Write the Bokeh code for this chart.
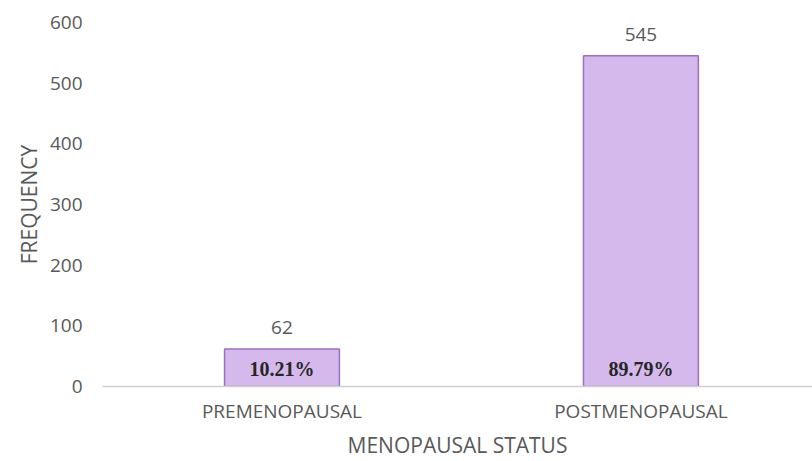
from bokeh.plotting import figure
from bokeh.models import ColumnDataSource, Range1d, FixedTicker, LabelSet
from bokeh.core.properties import value
from bokeh.embed import file_html
from bokeh.resources import INLINE

# Menopausal status counts
categories = ["PREMENOPAUSAL", "POSTMENOPAUSAL"]
frequency = [62, 545]
percent_labels = ["10.21%", "89.79%"]

positions = [0.5, 1.5]
source = ColumnDataSource(dict(
    x=positions,
    top=frequency,
    count_text=[str(v) for v in frequency],
    pct=percent_labels,
    pct_y=[0] * len(frequency),
))

GREY = "#595959"
FONT = "Open Sans"

p = figure(
    width=812, height=461,
    x_range=Range1d(0, 1.978), y_range=Range1d(0, 600),
    output_backend="svg", toolbar_location=None,
    min_border_left=102, min_border_right=0,
    min_border_top=22, min_border_bottom=75,
)
p.outline_line_color = None
p.background_fill_color = "white"
p.border_fill_color = "white"
p.xgrid.visible = False
p.ygrid.visible = False

p.vbar(x="x", top="top", width=0.32, source=source,
       fill_color="#D5B9EC", line_color="#9A6FC0", line_width=1.5)

# counts above bars
p.add_layout(LabelSet(x="x", y="top", text="count_text", source=source,
                      y_offset=21, text_align="center", text_baseline="middle",
                      text_font=value(FONT), text_font_size=value("19px"),
                      text_color=GREY))
# shares inside bars
p.add_layout(LabelSet(x="x", y="pct_y", text="pct", source=source,
                      y_offset=18, text_align="center", text_baseline="middle",
                      text_font=value("Liberation Serif"),
                      text_font_style="bold",
                      text_font_size=value("20px"), text_color="#262626"))

# x axis
p.xaxis.ticker = FixedTicker(ticks=positions)
p.xaxis.major_label_overrides = {pos: c for pos, c in zip(positions, categories)}
p.xaxis.axis_line_color = "#D0D0D0"
p.xaxis.axis_line_width = 1.5
p.xaxis.major_tick_line_color = None
p.xaxis.minor_tick_line_color = None
p.xaxis.major_tick_out = 0
p.xaxis.minor_tick_out = 0
p.xaxis.major_label_standoff = 11
p.xaxis.major_label_text_font = FONT
p.xaxis.major_label_text_font_size = "19px"
p.xaxis.major_label_text_color = GREY
p.xaxis.axis_label = "MENOPAUSAL STATUS"
p.xaxis.axis_label_standoff = 4
p.xaxis.axis_label_text_font = FONT
p.xaxis.axis_label_text_font_size = "21px"
p.xaxis.axis_label_text_font_style = "normal"
p.xaxis.axis_label_text_color = GREY

# y axis
p.yaxis.ticker = FixedTicker(ticks=[0, 100, 200, 300, 400, 500, 600])
p.yaxis.axis_line_color = None
p.yaxis.major_tick_line_color = None
p.yaxis.minor_tick_line_color = None
p.yaxis.major_tick_out = 0
p.yaxis.minor_tick_out = 0
p.yaxis.major_label_standoff = 20
p.yaxis.major_label_text_font = FONT
p.yaxis.major_label_text_font_size = "19px"
p.yaxis.major_label_text_color = GREY
p.yaxis.axis_label = "FREQUENCY"
p.yaxis.axis_label_standoff = 4
p.yaxis.axis_label_text_font = FONT
p.yaxis.axis_label_text_font_size = "21px"
p.yaxis.axis_label_text_font_style = "normal"
p.yaxis.axis_label_text_color = GREY

open("out.html", "w").write(file_html(p, INLINE))
